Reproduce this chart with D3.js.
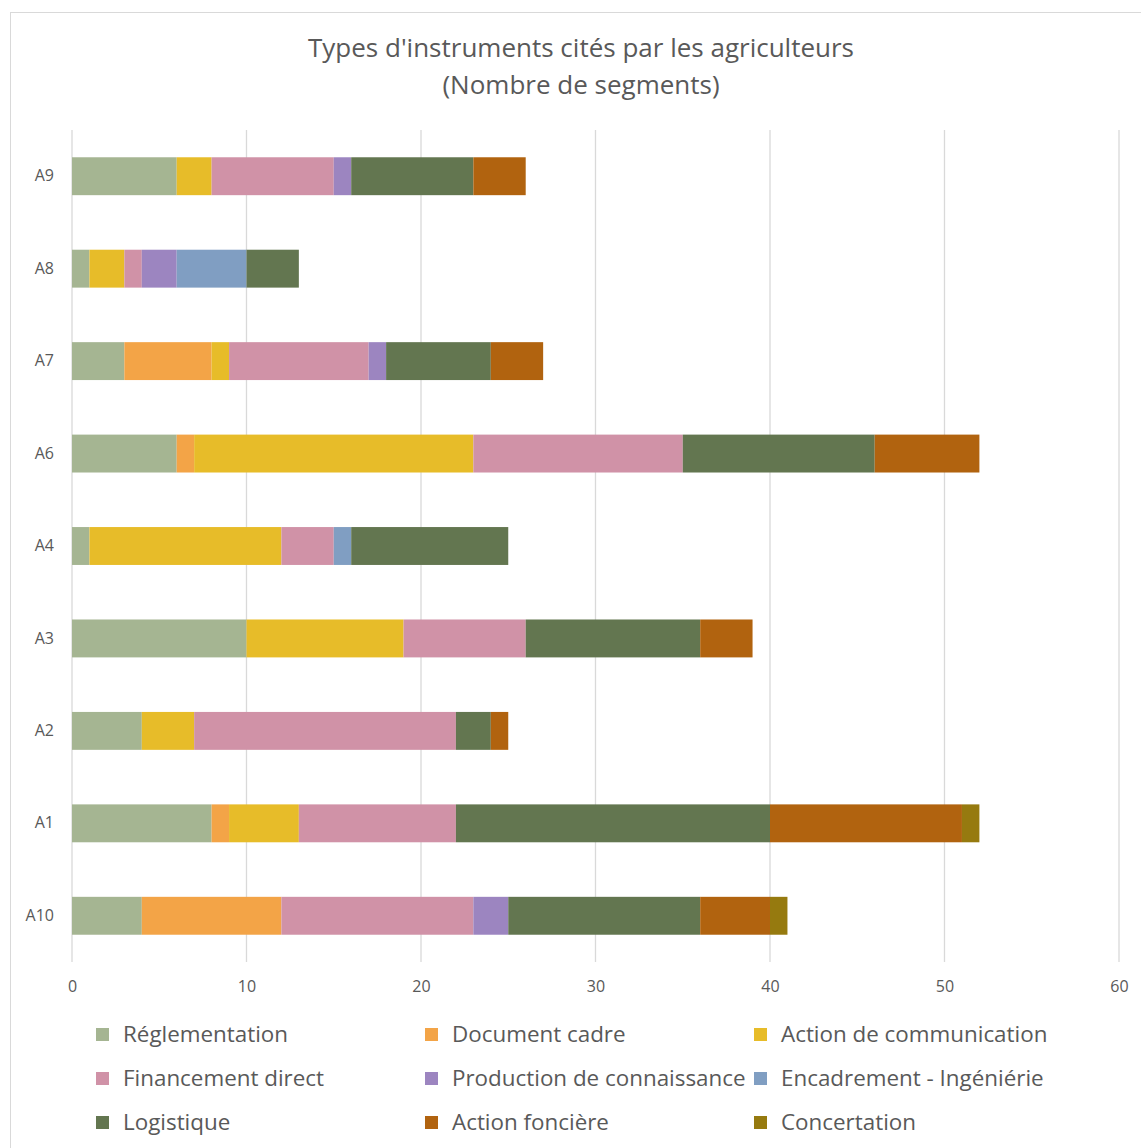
<!DOCTYPE html>
<html><head><meta charset="utf-8">
<script src="https://cdn.jsdelivr.net/npm/d3@7"></script>
<style>body{margin:0;background:#fff;}svg{display:block;font-family:"Open Sans", Lato, sans-serif;}</style>
</head><body>
<svg id="chart" width="1141" height="1148"></svg>
<script>
const categories = ["A9","A8","A7","A6","A4","A3","A2","A1","A10"];
const seriesNames = ["Réglementation","Document cadre","Action de communication","Financement direct","Production de connaissance","Encadrement - Ingéniérie","Logistique","Action foncière","Concertation"];
const seriesColors = ["#A5B592","#F3A447","#E7BC29","#D092A7","#9C85C0","#809EC2","#637650","#B1630F","#967A0F"];
// values per series, in category order
const reglementation = [6,1,3,6,1,10,4,8,4];
const documentCadre  = [0,0,5,1,0,0,0,1,8];
const actionComm     = [2,2,1,16,11,9,3,4,0];
const financement    = [7,1,8,12,3,7,15,9,11];
const production     = [1,2,1,0,0,0,0,0,2];
const encadrement    = [0,4,0,0,1,0,0,0,0];
const logistique     = [7,3,6,11,9,10,2,18,11];
const actionFonciere = [3,0,3,6,0,3,1,11,4];
const concertation   = [0,0,0,0,0,0,0,1,1];
const xTicks = [0,10,20,30,40,50,60];
const titleLines = ["Types d'instruments cités par les agriculteurs","(Nombre de segments)"];

(function(){
const FONT = "'Open Sans', Lato, sans-serif";
const seriesValues = [reglementation,documentCadre,actionComm,financement,production,encadrement,logistique,actionFonciere,concertation];
const table = categories.map((c,i)=>{const o={cat:c};seriesNames.forEach((s,j)=>o[s]=seriesValues[j][i]);return o;});
const stacked = d3.stack().keys(seriesNames)(table);

const svg = d3.select("#chart");
svg.append("rect").attr("x",10.5).attr("y",12.5).attr("width",1140).attr("height",1150)
  .attr("fill","#fff").attr("stroke","#d9d9d9");

const pLeft=72, pRight=1119, pTop=130, pBottom=962;
const x = d3.scaleLinear().domain([0,60]).range([pLeft,pRight]);
const y = d3.scaleBand().domain(categories).range([pTop,pBottom]).paddingInner(0.59).paddingOuter(0.295);

svg.append("g").selectAll("text").data(titleLines).join("text")
  .attr("x",581).attr("y",(d,i)=>57+i*37).attr("text-anchor","middle")
  .attr("font-size",26).attr("fill","#595959").attr("font-family",FONT).text(d=>d);

svg.append("g").selectAll("line").data(xTicks).join("line")
  .attr("x1",d=>x(d)).attr("x2",d=>x(d)).attr("y1",pTop).attr("y2",pBottom)
  .attr("stroke","#d9d9d9").attr("stroke-width",1.3);

svg.append("g").selectAll("g").data(stacked).join("g")
  .attr("fill",(d,i)=>seriesColors[i])
  .selectAll("rect").data(d=>d.filter(p=>p[1]>p[0])).join("rect")
  .attr("x",d=>x(d[0])).attr("width",d=>x(d[1])-x(d[0]))
  .attr("y",d=>y(d.data.cat)).attr("height",y.bandwidth());

const xa = svg.append("g").attr("transform",`translate(0,${pBottom})`)
  .call(d3.axisBottom(x).tickValues(xTicks).tickSize(0).tickPadding(19));
xa.select(".domain").remove();
xa.selectAll("text").attr("font-size",16).attr("fill","#595959").attr("font-family",FONT);

const ya = svg.append("g").attr("transform",`translate(${pLeft},0)`)
  .call(d3.axisLeft(y).tickSize(0).tickPadding(18));
ya.select(".domain").remove();
ya.selectAll("text").attr("font-size",16).attr("fill","#595959").attr("font-family",FONT);

const lg = svg.append("g");
const colX=[96,425,754], rowY=[1034,1078,1122];
const items = lg.selectAll("g").data(seriesNames).join("g")
  .attr("transform",(d,i)=>`translate(${colX[i%3]},${rowY[Math.floor(i/3)]})`);
items.append("rect").attr("x",0).attr("y",-6).attr("width",13).attr("height",13)
  .attr("fill",(d,i)=>seriesColors[i]);
items.append("text").attr("x",27).attr("y",0).attr("dy","0.35em")
  .attr("font-size",22.4).attr("fill","#595959").attr("font-family",FONT).text(d=>d);
})();
</script>
</body></html>
